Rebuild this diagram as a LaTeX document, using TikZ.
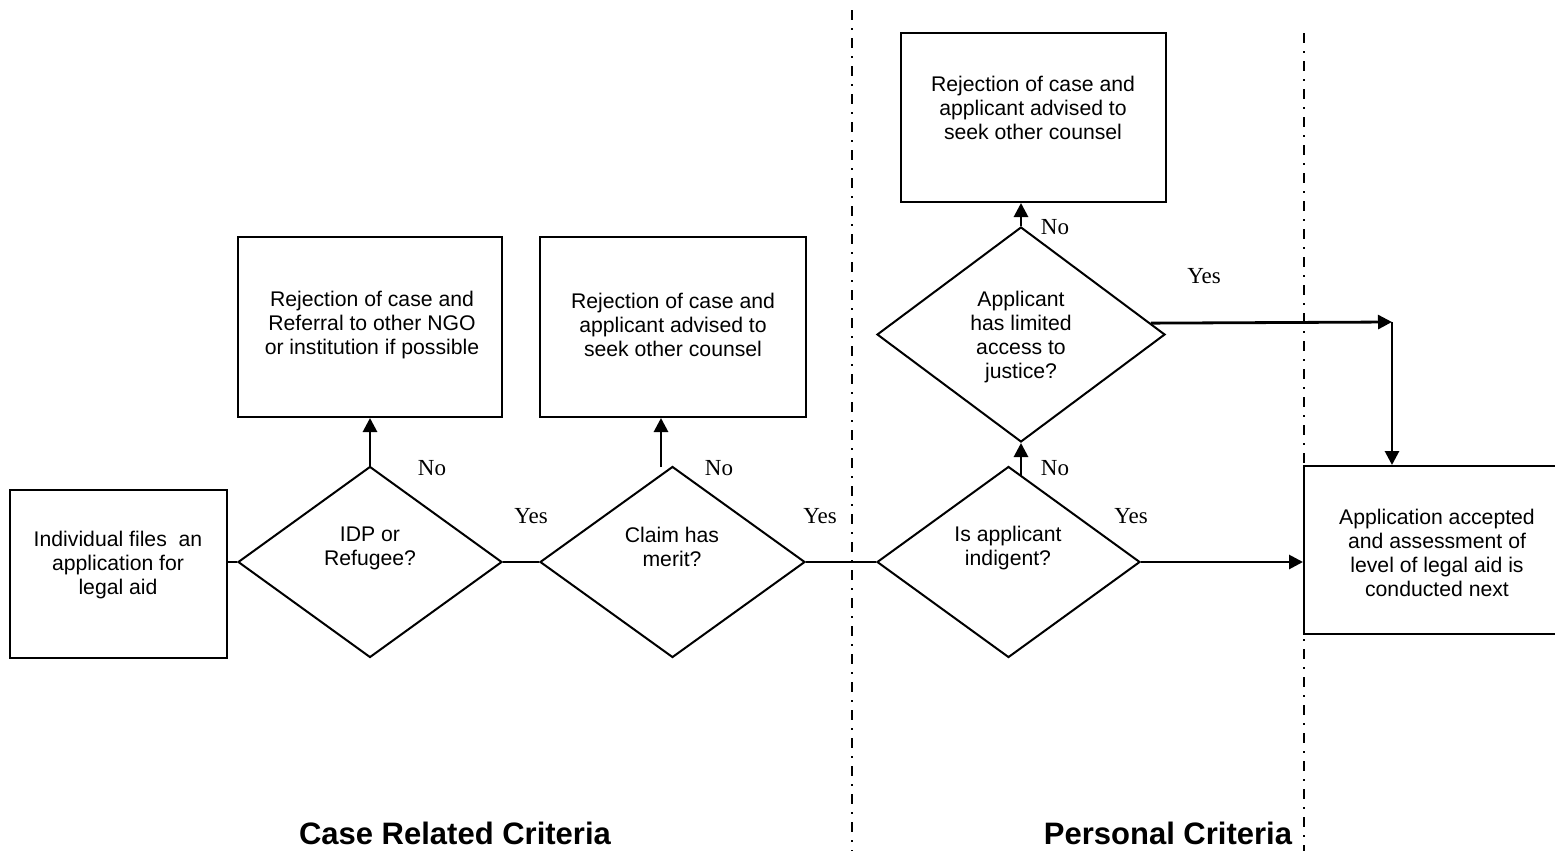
\documentclass[tikz,border=0pt]{standalone}
\usepackage{fontspec}
\setmainfont{Liberation Sans}
\newfontfamily\ynfont{Liberation Serif}
\usetikzlibrary{arrows.meta,positioning,shapes.geometric}

\begin{document}
\begin{tikzpicture}[x=0.5pt,y=-0.5pt,
  every node/.style={font=\fontsize{10.6}{12}\selectfont},
  box/.style={draw,line width=1pt,inner sep=0pt},
  dia/.style={draw,diamond,line width=1pt,inner sep=0pt},
  txt/.style={align=center,inner sep=0pt},
  yn/.style={font=\ynfont\fontsize{11.5}{13}\selectfont,inner sep=0pt},
  crit/.style={font=\bfseries\fontsize{15.5}{18}\selectfont,inner sep=0pt,anchor=base},
  ln/.style={line width=1.4pt},
  ar/.style={line width=1.4pt,-{Triangle[length=7pt,width=7pt]}},
  sep/.style={line width=1.4pt,dash pattern=on 5pt off 4pt on 1pt off 4pt}]
\useasboundingbox (0,0) rectangle (1555,851);
\draw[sep] (852,10) -- (852,851);
\draw[sep] (1304,33) -- (1304,851);
\node[box,minimum width=108.5pt,minimum height=84pt] (start) at (118.5,574) {};
\node[txt] (startt) at (118,565) {Individual files~ an\\application for\\legal aid};
\node[dia,minimum width=132pt,minimum height=95.5pt] (d1) at (370,562) {};
\node[txt] (d1t) at (370,548) {IDP or\\Refugee?};
\node[dia,minimum width=132.5pt,minimum height=95.5pt] (d2) at (672.5,562) {};
\node[txt] (d2t) at (672,547) {Claim has\\merit?};
\node[dia,minimum width=131.5pt,minimum height=95.5pt] (d3) at (1008.5,562) {};
\node[txt] (d3t) at (1008,548) {Is applicant\\indigent?};
\node[dia,minimum width=144pt,minimum height=107.5pt] (d4) at (1021,334.5) {};
\node[txt] (d4t) at (1021,337) {Applicant\\has limited\\access to\\justice?};
\node[box,minimum width=132pt,minimum height=90pt] (rejA) at (370,327) {};
\node[txt] (rejAt) at (372,325) {Rejection of case and\\Referral to other NGO\\or institution if possible};
\node[box,minimum width=133pt,minimum height=90pt] (rejB) at (673,327) {};
\node[txt] (rejBt) at (673,325) {Rejection of case and\\applicant advised to\\seek other counsel};
\node[box,minimum width=132.5pt,minimum height=84.5pt] (rejC) at (1033.5,117.5) {};
\node[txt] (rejCt) at (1033,108) {Rejection of case and\\applicant advised to\\seek other counsel};
\node[box,minimum width=133pt,minimum height=84pt] (fin) at (1437,550) {};
\node[txt] (fint) at (1437,553) {Application accepted\\and assessment of\\level of legal aid is\\conducted next};
\coordinate (c2) at (661,467);
\coordinate (c3) at (1021,476);
\coordinate (c4) at (1392,322);
\draw[ln] (d1.west -| start.east) -- (d1.west);
\draw[ln] (d1.east) -- (d2.west);
\draw[ln] (d2.east) -- (d3.west);
\draw[ar] (d1.north) -- (d1.north |- rejA.south);
\draw[ar] (c2) -- (c2 |- rejB.south);
\draw[ar] (c3) -- (d4.south);
\draw[ar] (d4.north) -- (d4.north |- rejC.south);
\draw[ar] (d4.5.5) -- (c4);
\draw[ar] (c4) -- (c4 |- fin.north);
\draw[ar] (d3.east) -- (d3.east -| fin.west);
\node[yn] (no1) at (432,468) {No};
\node[yn] (yes1) at (531,516) {Yes};
\node[yn] (no2) at (719,468) {No};
\node[yn] (yes2) at (820,516) {Yes};
\node[yn] (no3) at (1055,227) {No};
\node[yn] (yes3) at (1204,276) {Yes};
\node[yn] (no4) at (1055,468) {No};
\node[yn] (yes4) at (1131,516) {Yes};
\node[crit] (case) at (455,844) {Case Related Criteria};
\node[crit] (pers) at (1168,844) {Personal Criteria};
\end{tikzpicture}
\end{document}
